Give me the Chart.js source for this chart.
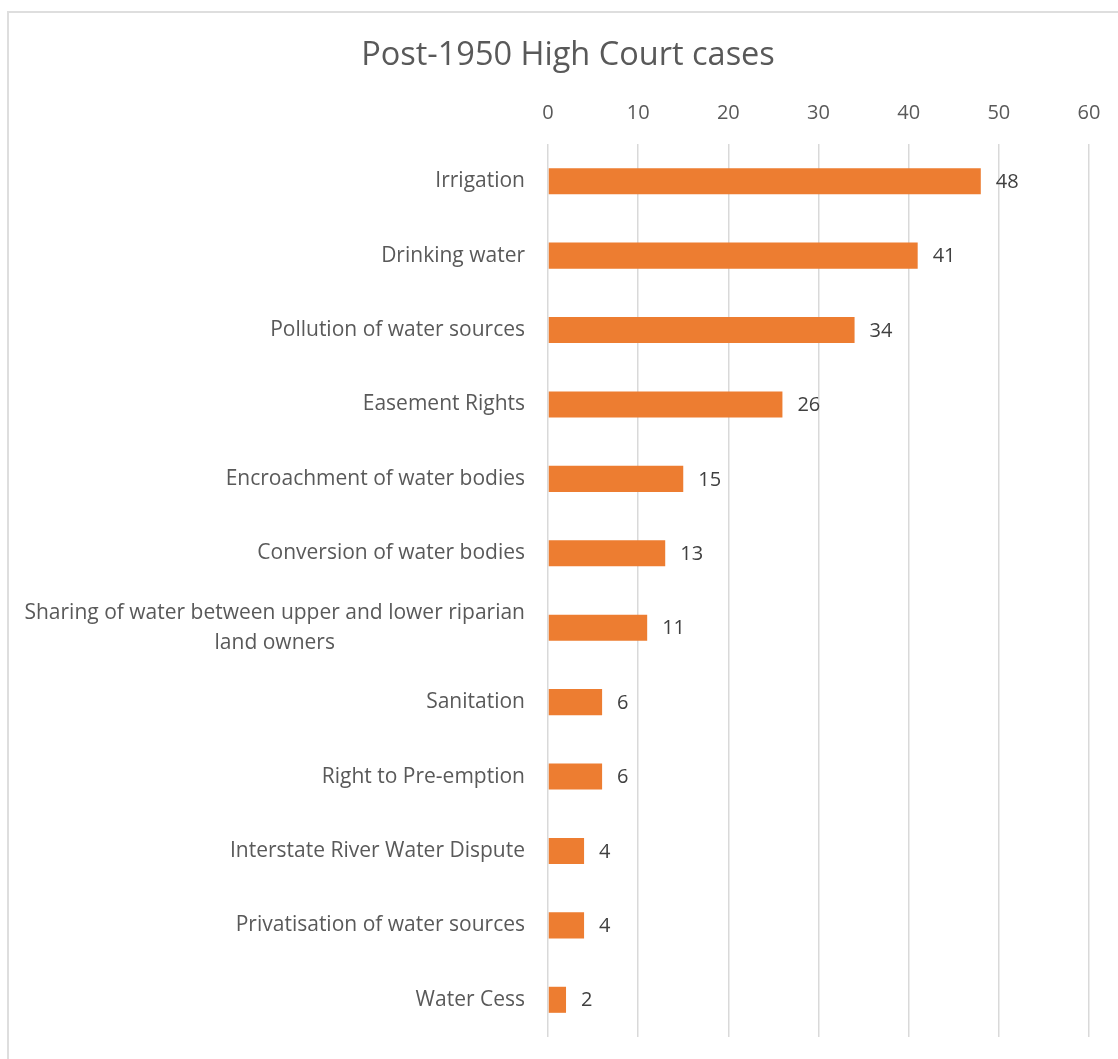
<!DOCTYPE html>
<html>
<head>
<meta charset="utf-8">
<title>Post-1950 High Court cases</title>
<script src="https://cdn.jsdelivr.net/npm/chart.js@4/dist/chart.umd.min.js"></script>
<style>
  html, body { margin: 0; padding: 0; background: #fff; overflow: hidden; }
  #frame {
    position: absolute; left: 7px; top: 11px;
    width: 1300px; height: 1200px;
    border: 2px solid #dedede; box-sizing: border-box;
  }
  #wrap { position: absolute; left: 9px; top: 0; width: 1118px; height: 1059px; }
</style>
</head>
<body>
<div id="frame"></div>
<div id="wrap"><canvas id="casesChart"></canvas></div>
<script>
// Case categories (top to bottom) and number of cases
const categories = [
  'Irrigation',
  'Drinking water',
  'Pollution of water sources',
  'Easement Rights',
  'Encroachment of water bodies',
  'Conversion of water bodies',
  ['Sharing of water between upper and lower riparian', 'land owners'],
  'Sanitation',
  'Right to Pre-emption',
  'Interstate River Water Dispute',
  'Privatisation of water sources',
  'Water Cess'
];
const caseCounts = [48, 41, 34, 26, 15, 13, 11, 6, 6, 4, 4, 2];
const xTicks = [0, 10, 20, 30, 40, 50, 60];

const FONT = '"Open Sans", Lato, sans-serif';

// Category labels: right aligned, extra lines centred under the first
const categoryLabels = {
  id: 'categoryLabels',
  afterDraw(chart) {
    const ctx = chart.ctx;
    const yScale = chart.scales.y;
    const right = chart.chartArea.left - 23;
    const lineH = 30;
    ctx.save();
    ctx.font = '21px ' + FONT;
    ctx.fillStyle = '#595959';
    ctx.textAlign = 'center';
    ctx.textBaseline = 'middle';
    categories.forEach((label, i) => {
      const lines = Array.isArray(label) ? label : [label];
      const widest = Math.max(...lines.map(l => ctx.measureText(l).width));
      const cx = right - widest / 2;
      const cy = yScale.getPixelForValue(i);
      const top = cy - (lines.length - 1) * lineH / 2;
      lines.forEach((l, j) => ctx.fillText(l, cx, top + j * lineH));
    });
    ctx.restore();
  }
};

// Value labels at the end of each bar
const valueLabels = {
  id: 'valueLabels',
  afterDatasetsDraw(chart) {
    const ctx = chart.ctx;
    const meta = chart.getDatasetMeta(0);
    ctx.save();
    ctx.font = '20px ' + FONT;
    ctx.fillStyle = '#404040';
    ctx.textAlign = 'left';
    ctx.textBaseline = 'middle';
    meta.data.forEach((bar, i) => {
      ctx.fillText(String(caseCounts[i]), bar.x + 15, bar.y + 1);
    });
    ctx.restore();
  }
};

new Chart(document.getElementById('casesChart'), {
  type: 'bar',
  data: {
    labels: categories,
    datasets: [{
      data: caseCounts,
      backgroundColor: '#ED7D31',
      borderWidth: 0,
      barPercentage: 0.35,
      categoryPercentage: 1.0
    }]
  },
  options: {
    indexAxis: 'y',
    responsive: true,
    maintainAspectRatio: false,
    animation: false,
    layout: { padding: { top: 0, right: 38, bottom: 22, left: 38 } },
    plugins: {
      legend: { display: false },
      tooltip: { enabled: false },
      title: {
        display: true,
        text: 'Post-1950 High Court cases',
        color: '#595959',
        font: { family: FONT, size: 32.5, weight: 'normal' },
        padding: { top: 36, bottom: 12 }
      }
    },
    scales: {
      x: {
        position: 'top',
        min: 0,
        max: 60,
        afterBuildTicks(scale) {
          scale.ticks = xTicks.map(v => ({ value: v }));
        },
        afterFit(scale) { scale.height = 57; },
        ticks: {
          color: '#595959',
          font: { family: FONT, size: 20 },
          padding: 19
        },
        grid: { color: '#d9d9d9', lineWidth: 1.5, drawTicks: false },
        border: { display: false }
      },
      y: {
        afterFit(scale) { scale.width = 501; },
        ticks: { display: false },
        grid: { display: false },
        border: { display: false }
      }
    }
  },
  plugins: [categoryLabels, valueLabels]
});
</script>
</body>
</html>
